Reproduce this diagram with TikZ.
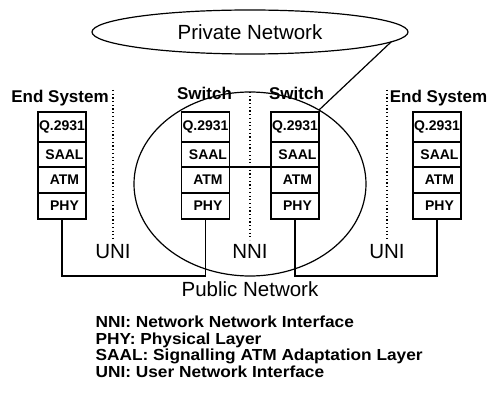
\documentclass[tikz,border=0pt]{standalone}
\usepackage{fontspec}
\usepackage{graphicx}
\setmainfont{Liberation Sans}
\usetikzlibrary{shapes.geometric}
\newcommand\mystack[2]{%
  \node[layerbox, minimum height=30pt] (#1q) at (#2,127) {Q.2931};
  \node[layerbox, minimum height=25pt] (#1s) at (#2,154.5) {\hspace*{5pt}SAAL};
  \node[layerbox, minimum height=26pt] (#1a) at (#2,180) {\hspace*{5pt}ATM};
  \node[layerbox, minimum height=26pt] (#1p) at (#2,206) {\hspace*{5pt}PHY};
}
\begin{document}
\begin{tikzpicture}[x=1pt,y=-1pt, line width=1.2pt,
  layerbox/.style={draw, minimum width=48pt, inner sep=0pt, outer sep=0pt,
    font=\fontsize{14}{16}\selectfont\bfseries},
  sysname/.style={font=\fontsize{17}{20}\selectfont\bfseries, anchor=base, inner sep=0pt},
  bigtext/.style={font=\fontsize{20.5}{24}\selectfont, inner sep=0pt},
  iface/.style={dash pattern=on 1.2pt off 2.5pt, line width=1.3pt},
  legendtext/.style={font=\fontsize{16}{19}\selectfont\bfseries, anchor=base west, inner sep=0pt}]
\useasboundingbox (0,0) rectangle (491,398);

% interface dividers
\draw[iface] (113,90) -- (113,240);
\draw[iface] (250,92) -- (250,240);
\draw[iface] (387,90) -- (387,240);

% system labels
\node[sysname] (es1) at (60,103) {End System};
\node[sysname] (sw1) at (204.5,99.5) {Switch};
\node[sysname] (sw2) at (296.5,99.5) {Switch};
\node[sysname] (es2) at (438.5,103) {End System};

% stacks
\mystack{ea}{62}
\mystack{sa}{205.5}
\mystack{sb}{295}
\mystack{eb}{437}

% ellipses
\node[ellipse, draw, minimum width=316pt, minimum height=44pt, outer sep=0pt, bigtext] (priv) at (250,32) {Private Network};
\node[ellipse, draw, minimum width=232pt, minimum height=184pt, inner sep=0pt, outer sep=0pt] (pub) at (250,184) {};
\draw (priv.-4.6) -- (pub.47);

% interface labels
\node[bigtext, anchor=base] (uni1) at (113,259) {UNI};
\node[bigtext, anchor=base] (nni) at (250,259) {NNI};
\node[bigtext, anchor=base] (uni2) at (387,259) {UNI};
\node[bigtext, anchor=base] (pubt) at (250,297) {Public Network};

% connections
\coordinate (low) at (0,276);
\draw (eap.south) |- (sap.south |- low) -- (sap.south);
\draw (sbp.south) |- (ebp.south |- low) -- (ebp.south);
\draw (sas.south east) -- (sbs.south west);

% legend
\node[legendtext] (l1) at (95,328) {\scalebox{1.08}[1]{NNI: Network Network Interface}};
\node[legendtext] (l2) at (95,344.5) {\scalebox{1.08}[1]{PHY: Physical Layer}};
\node[legendtext] (l3) at (95,361) {\scalebox{1.08}[1]{SAAL: Signalling ATM Adaptation Layer}};
\node[legendtext] (l4) at (95,377.5) {\scalebox{1.08}[1]{UNI: User Network Interface}};
\end{tikzpicture}
\end{document}
